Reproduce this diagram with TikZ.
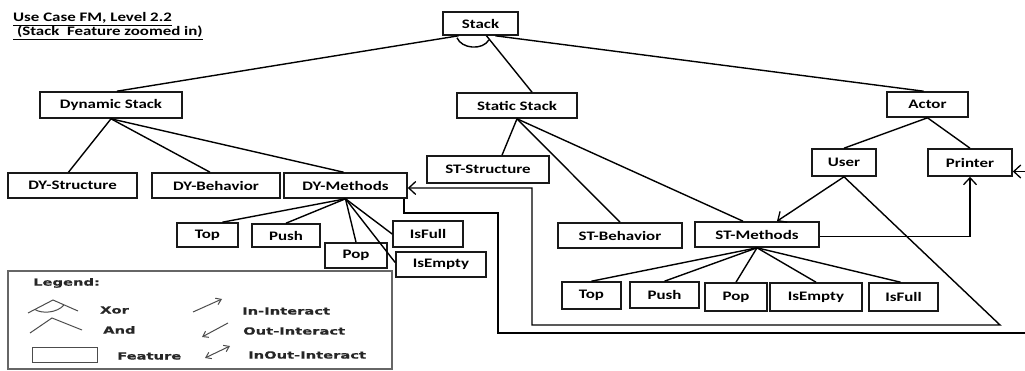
\documentclass[tikz,border=0pt]{standalone}
\usepackage{fontspec}
\usetikzlibrary{arrows.meta,calc}
\newfontfamily\boxfont{Carlito}[FakeStretch=1.3]
\newfontfamily\legfont{DejaVu Sans Bold}[FakeStretch=1.5,FakeBold=0.6]

\begin{document}
\begin{tikzpicture}[x=1pt,y=-1pt,
  feat/.style={draw=black!90,line width=1.6pt,fill=white,inner sep=0pt,
    font=\boxfont\bfseries\fontsize{13}{15}\selectfont,text=black},
  link/.style={draw=black,line width=1.4pt},
  barb/.style={-{Straight Barb[length=7pt,width=13pt,line width=1.3pt]}},
  legtxt/.style={anchor=west,inner sep=0pt,font=\legfont\fontsize{9.8}{11}\selectfont,text=black!85},
  legline/.style={draw=black!70,line width=1pt},
  legbarb/.style={draw=black!70,line width=1pt,{Straight Barb[length=5pt,width=7pt]}-{Straight Barb[length=5pt,width=7pt]}},
  titletxt/.style={anchor=base west,inner sep=0pt,font=\boxfont\bfseries\fontsize{13}{15}\selectfont,text=black}
]
\useasboundingbox (0,0) rectangle (1025,371);
\clip (0,0) rectangle (1025,371);

% title
\node[titletxt] (title1) at (13,22) {\underline{Use Case FM, Level 2.2}};
\node[titletxt] (title2) at (13,36) {\underline{\ (Stack\ \ Feature zoomed in)}};

% root and first level
\node[feat,minimum width=75pt,minimum height=23pt] (stack) at (480.5,23.5) {Stack};
\node[feat,minimum width=142pt,minimum height=26pt] (dyn) at (111,105) {Dynamic Stack};
\node[feat,minimum width=120pt,minimum height=25pt] (stat) at (517,105.5) {Static Stack};
\node[feat,minimum width=81pt,minimum height=25pt] (actor) at (927.5,104.5) {Actor};

% dynamic stack subtree
\node[feat,minimum width=129pt,minimum height=25pt] (dystruct) at (72.5,185.5) {DY-Structure};
\node[feat,minimum width=128pt,minimum height=25pt] (dybeh) at (216,185.5) {DY-Behavior};
\node[feat,minimum width=123pt,minimum height=25pt] (dymeth) at (345.5,185.5) {DY-Methods};
\node[feat,minimum width=61pt,minimum height=24pt] (dytop) at (207.5,235) {Top};
\node[feat,minimum width=68pt,minimum height=23pt] (dypush) at (286,235.5) {Push};
\node[feat,minimum width=62pt,minimum height=25pt] (dypop) at (356,255.5) {Pop};
\node[feat,minimum width=70pt,minimum height=26pt] (dyisfull) at (428,234) {IsFull};
\node[feat,minimum width=90pt,minimum height=25pt] (dyisempty) at (441,264.5) {IsEmpty};

% static stack subtree
\node[feat,minimum width=122pt,minimum height=27pt] (ststruct) at (488,169.5) {ST-Structure};
\node[feat,minimum width=124pt,minimum height=25pt] (stbeh) at (620,235.5) {ST-Behavior};
\node[feat,minimum width=124pt,minimum height=25pt] (stmeth) at (757,234.5) {ST-Methods};
\node[feat,minimum width=59pt,minimum height=27pt] (sttop) at (591.5,295.5) {Top};
\node[feat,minimum width=69pt,minimum height=26pt] (stpush) at (664.5,295) {Push};
\node[feat,minimum width=62pt,minimum height=28pt] (stpop) at (736,297) {Pop};
\node[feat,minimum width=92pt,minimum height=28pt] (stisempty) at (816,297) {IsEmpty};
\node[feat,minimum width=69pt,minimum height=28pt] (stisfull) at (903.5,297) {IsFull};

% actor subtree
\node[feat,minimum width=64pt,minimum height=27pt] (user) at (844,162.5) {User};
\node[feat,minimum width=84pt,minimum height=27pt] (printer) at (970,162.5) {Printer};

% decomposition links
\draw[link] ($(stack.south)+(-22,0)$) -- ($(dyn.north)+(6,0)$);
\draw[link] ($(stack.south)+(6,0)$) -- ($(stat.north)+(15,0)$);
\draw[link] ($(stack.south)+(15,0)$) -- ($(actor.north)+(-4,0)$);
\draw[link] ($(stack.south)+(-23.5,2)$) .. controls ($(stack.south)+(-19,13)$) and ($(stack.south)+(2,15)$) .. ($(stack.south)+(8.5,4)$);

\draw[link] (dyn.south) -- ($(dystruct.north)+(-4,0)$);
\draw[link] (dyn.south) -- ($(dybeh.north)+(-6,0)$);
\draw[link] (dyn.south) -- ($(dymeth.north)+(-2,0)$);

\draw[link] (dymeth.south) -- ($(dytop.north)+(15,0)$);
\draw[link] (dymeth.south) -- (dypush.north);
\draw[link] (dymeth.south) -- (dypop.north);
\draw[link] (dymeth.south) -- ($(dyisempty.west)+(0,-2)$);
\draw[link] (dymeth.south) -- (dyisfull.west);

\draw[link] (stat.south) -- ($(ststruct.north)+(14,0)$);
\draw[link] (stat.south) -- (stbeh.north);
\draw[link] (stat.south) -- ($(stmeth.north)+(-14,0)$);

\draw[link] (stmeth.south) -- (sttop.north);
\draw[link] (stmeth.south) -- (stpush.north);
\draw[link] (stmeth.south) -- (stpop.north);
\draw[link] (stmeth.south) -- (stisempty.north);
\draw[link] (stmeth.south) -- ($(stisfull.north)+(-3,0)$);

\draw[link] (actor.south) -- (user.north);
\draw[link] (actor.south) -- (printer.north);

% interactions
\coordinate (ubend) at (1000,325);
\coordinate (ucorner) at (532,325);
\coordinate (dturn) at (498,213);
\coordinate (dlow) at (498,333);
\coordinate (dfar) at (1040,333);

\draw[link,barb] (user.south) -- ($(stmeth.north)+(20,0)$);
\draw[link,barb] ($(stmeth.east)+(0,2)$) -| (printer.south);
\draw[link,barb] (user.south) -- (ubend) -- (ucorner) |- ($(dymeth.east)+(0,2.5)$);
\draw[link,barb] ($(dymeth.south east)+(-4,0)$) |- (dturn) -- (dlow) -- (dfar) |- ($(printer.east)+(0,9)$);

% legend
\draw[draw=black!60,line width=1.2pt] (8,271) rectangle (392,369);
\node[legtxt] (lgtitle) at (33,283) {Legend:};
\draw[legline] (28,313) -- (53,300) -- (78,311);
\draw[legline] (35,309.5) .. controls (42,314) and (57,313) .. (64,305);
\node[legtxt] (lgxor) at (100,310) {Xor};
\draw[legline] (30,333) -- (52,318) -- (82,330);
\node[legtxt] (lgand) at (103,330) {And};
\draw[legline] (32,347) rectangle (97,362);
\node[legtxt] (lgfeat) at (117,356) {Feature};
\draw[legline,-{Straight Barb[length=5pt,width=7pt]}] (193,312) -- (222,299);
\node[legtxt] (lgin) at (242,311) {In-Interact};
\draw[legline,-{Straight Barb[length=5pt,width=7pt]}] (228,323) -- (202,337);
\node[legtxt] (lgout) at (243,331) {Out-Interact};
\draw[legbarb] (205,358) -- (230,346);
\node[legtxt] (lginout) at (248,355) {InOut-Interact};
\end{tikzpicture}
\end{document}
